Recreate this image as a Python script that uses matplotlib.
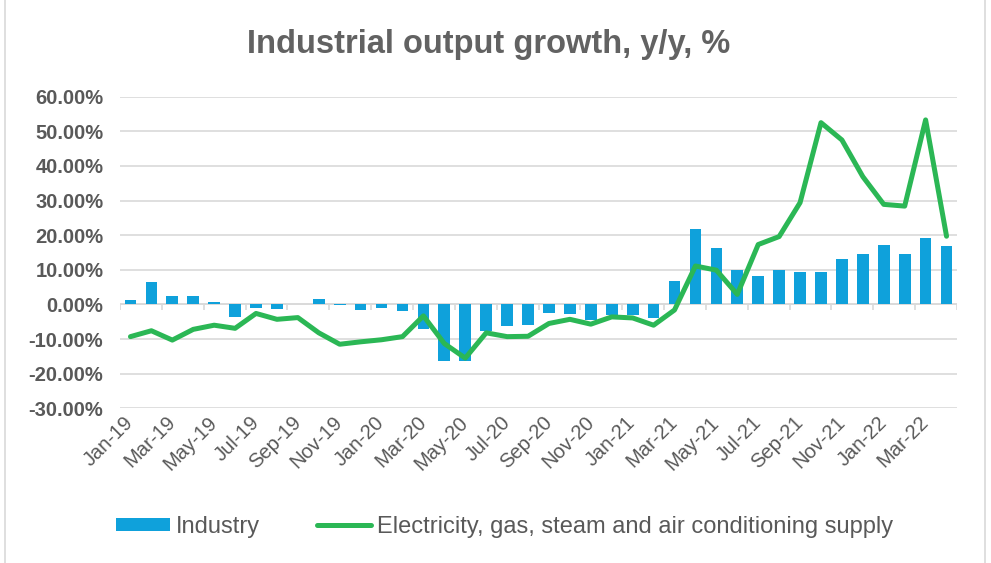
import numpy as np
import matplotlib
matplotlib.use("Agg")
import matplotlib.pyplot as plt
from matplotlib.patches import Rectangle

plt.rcParams['font.family'] = ['Liberation Sans', 'DejaVu Sans']

# data
months = ['Jan-19', 'Feb-19', 'Mar-19', 'Apr-19', 'May-19', 'Jun-19', 'Jul-19', 'Aug-19',
          'Sep-19', 'Oct-19', 'Nov-19', 'Dec-19', 'Jan-20', 'Feb-20', 'Mar-20', 'Apr-20',
          'May-20', 'Jun-20', 'Jul-20', 'Aug-20', 'Sep-20', 'Oct-20', 'Nov-20', 'Dec-20',
          'Jan-21', 'Feb-21', 'Mar-21', 'Apr-21', 'May-21', 'Jun-21', 'Jul-21', 'Aug-21',
          'Sep-21', 'Oct-21', 'Nov-21', 'Dec-21', 'Jan-22', 'Feb-22', 'Mar-22', 'Apr-22']
industry = [1.2, 6.5, 2.4, 2.3, 0.8, -3.6, -1.0, -1.3,
            0.1, 1.6, -0.2, -1.7, -0.9, -1.9, -7.2, -16.3,
            -16.2, -7.6, -6.1, -5.9, -2.6, -2.7, -4.5, -3.1,
            -3.1, -4.0, 6.7, 21.8, 16.3, 9.9, 8.3, 10.0,
            9.3, 9.3, 13.1, 14.5, 17.1, 14.7, 19.2, 16.8]
electricity = [-9.3, -7.6, -10.3, -7.2, -6.0, -6.9, -2.6, -4.3,
               -3.8, -8.2, -11.5, -10.8, -10.2, -9.3, -3.3, -11.3,
               -15.5, -8.2, -9.3, -9.2, -5.5, -4.3, -5.7, -3.6,
               -3.9, -6.0, -1.6, 11.1, 9.9, 2.9, 17.3, 19.6,
               29.4, 52.5, 47.5, 36.9, 28.9, 28.4, 53.3, 19.7]

gray = '#595959'
grid = '#D9D9D9'
blue = '#0FA1DB'
green = '#2BB755'

fig = plt.figure(figsize=(9.91, 5.63), dpi=100)
fig.patches.append(Rectangle((5 / 991, -0.01), 980 / 991, 1.02, transform=fig.transFigure,
                             fill=False, edgecolor=grid, linewidth=1.2))
ax = fig.add_axes([120 / 991, 1 - 408.3 / 563, 837 / 991, (408.3 - 96.7) / 563])

x = np.arange(len(months))
bars = ax.bar(x, industry, width=0.56, color=blue, label='Industry', zorder=3)
line, = ax.plot(x, electricity, color=green, linewidth=3.6, solid_joinstyle='round',
                solid_capstyle='round',
                label='Electricity, gas, steam and air conditioning supply', zorder=4)

ax.set_xlim(-0.5, len(months) - 0.5)
ax.set_ylim(-30, 60)
ax.set_yticks(np.arange(-30, 61, 10))
ax.set_yticklabels([f'{v:.2f}%' for v in np.arange(-30, 61, 10)], fontsize=14.5,
                   fontweight='bold', color=gray)
ax.yaxis.grid(True, color=grid, linewidth=1.2, zorder=0)
ax.set_axisbelow(True)
ax.tick_params(axis='y', length=0, pad=12)

ax.set_xticks(x[::2])
ax.set_xticklabels(months[::2], rotation=45, ha='right', va='center',
                   rotation_mode='anchor', fontsize=14.5, color=gray)
ax.tick_params(axis='x', length=0, pad=8)

for s in ax.spines.values():
    s.set_visible(False)

# category axis at zero with tick marks every two months
ax.axhline(0, color=grid, linewidth=1.2, zorder=2)
ax.vlines(np.arange(-0.5, len(months), 2), -1.6, 0, color=grid, linewidth=1.2, zorder=2)

fig.text(489 / 991, 1 - 45 / 563, 'Industrial output growth, y/y, %', ha='center', va='center',
         fontsize=23.5, fontweight='bold', color='#626262')

leg = fig.legend([bars, line], [bars.get_label(), line.get_label()],
                 loc='center left', bbox_to_anchor=(104 / 991, 1 - 527 / 563), ncol=2,
                 frameon=False, fontsize=17, handlelength=2.3, handleheight=0.5,
                 handletextpad=0.25, columnspacing=2.4, borderpad=0)
for t in leg.get_texts():
    t.set_color(gray)

fig.savefig('out.png', dpi=100)
